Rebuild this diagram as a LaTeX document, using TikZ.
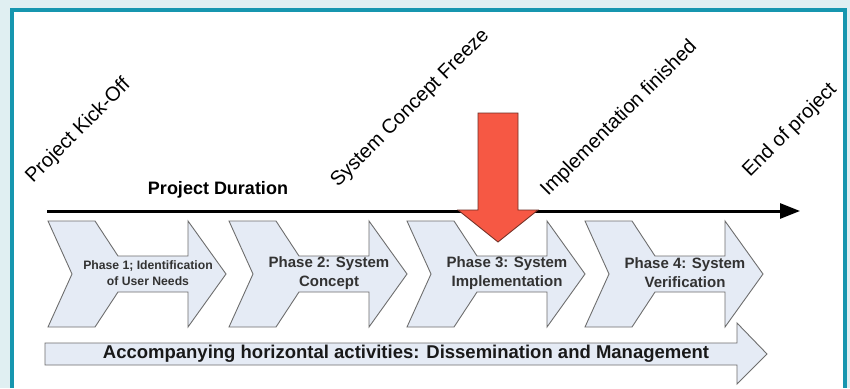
\documentclass[tikz,border=0pt]{standalone}
\usepackage{fontspec}
\setmainfont{Liberation Sans}
\usetikzlibrary{arrows.meta}

\definecolor{pagebg}{RGB}{224,239,242}
\definecolor{framecol}{RGB}{22,150,175}
\definecolor{phasefill}{RGB}{229,235,245}
\definecolor{phaseline}{RGB}{110,110,110}
\definecolor{redarrow}{RGB}{246,88,68}
\definecolor{redline}{RGB}{110,45,35}
\definecolor{phasetext}{RGB}{50,50,50}

\tikzset{
  milestone/.style={rotate=45, anchor=base west, inner sep=0pt, font=\fontsize{20}{24}\selectfont},
  phasebox/.style={fill=phasefill, draw=phaseline, line width=0.9pt, line join=miter},
  phaselabel/.style={align=center, inner sep=0pt, text=phasetext, font=\bfseries\fontsize{15}{19}\selectfont},
}

\begin{document}
\begin{tikzpicture}[x=1pt, y=1pt]

% Page and frame
\useasboundingbox (0,0) rectangle (850,-388);
\fill[pagebg] (0,0) rectangle (850,-388);
\fill[framecol] (10,-8) rectangle (847,-388);
\fill[white] (14,-12) rectangle (843,-388);

% Milestones
\node[milestone] (kickoff) at (33,-184) {Project Kick-Off};
\node[milestone] (freeze) at (338,-188) {System Concept Freeze};
\node[milestone] (implfin) at (548,-197) {Implementation finished};
\node[milestone] (endproj) at (750,-178) {End of project};

% Time line
\node[font=\bfseries\fontsize{18}{20}\selectfont, inner sep=0pt] (duration) at (218,-190) {Project Duration};
\coordinate (tlstart) at (47,-211);
\coordinate (tlend) at (800,-211);
\draw[line width=3pt, -{Triangle[length=20pt,width=15pt]}] (tlstart) -- (tlend);

% Phase chevrons, set along the time line
\foreach \x in {48,229,407,585}
{
    \draw[phasebox] (\x,-221) -- ++(47,0) -- ++(23,-35) -- ++(70,0) -- ++(0,35)
        -- ++(38,-53) -- ++(-38,-53) -- ++(0,35) -- ++(-70,0) -- ++(-23,-35)
        -- ++(-47,0) -- ++(24,53) -- cycle;
}

% Phase labels
\node[phaselabel, font=\bfseries\fontsize{12.2}{16}\selectfont] (phase1) at (148,-273) {Phase 1; Identification\\of User Needs};
\foreach \x/\n/\txt in {329/2/Concept, 507/3/Implementation, 685/4/Verification}
{
    \node[phaselabel] (phase\n) at (\x,-273) {Phase \n: System\\\txt};
}

% Current phase marker
\draw[fill=redarrow, draw=redline, line width=0.8pt, line join=miter]
    (478,-113) -- (518,-113) -- (518,-210) -- (538,-210) -- (498,-242)
    -- (458,-210) -- (478,-210) -- cycle;

% Horizontal activities
\draw[phasebox] (45,-343) -- (737,-343) -- (737,-323) -- (767,-354)
    -- (737,-384) -- (737,-365) -- (45,-365) -- cycle;
\node[font=\bfseries\fontsize{18.5}{20}\selectfont, inner sep=0pt, text=black!90] (activities) at (406,-354)
    {Accompanying horizontal activities: Dissemination and Management};

\end{tikzpicture}
\end{document}
